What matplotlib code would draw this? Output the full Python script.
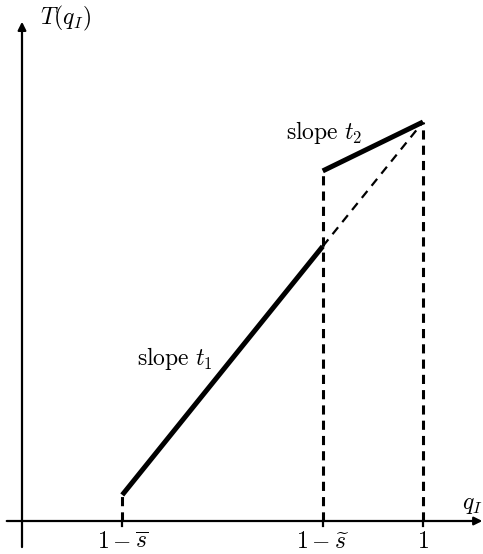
import matplotlib

matplotlib.use("Agg")
import matplotlib.pyplot as plt  # noqa: E402

plt.rcParams["mathtext.fontset"] = "cm"

# breakpoints on the q_I axis
q_low = 0.25      # 1 - s_bar
q_mid = 0.75      # 1 - s_tilde
q_top = 1.0
tick_labels = [r"$1-\overline{s}$", r"$1-\widetilde{s}$", r"$1$"]

# tariff values
T_low = 0.065     # T at 1 - s_bar
t1 = 1.24         # slope of the first segment
T_jump = 0.873    # T just after the jump at 1 - s_tilde
T_end = 0.995     # T at q_I = 1

T_mid = T_low + t1 * (q_mid - q_low)

INK = "black"
FS = 17

fig = plt.figure(figsize=(4.83, 5.54), dpi=100)
ax = fig.add_axes([0, 0, 1, 1])
ax.set_xlim(-22 / 401, 461 / 401)
ax.set_ylim(-33 / 401, 521 / 401)
ax.axis("off")

# coordinate axes with arrow heads
arrow = dict(arrowstyle="-|>", color=INK, lw=1.6, mutation_scale=12,
             shrinkA=0, shrinkB=0)
ax.annotate("", xy=(1.148, 0), xytext=(-0.038, 0), arrowprops=arrow,
            annotation_clip=False)
ax.annotate("", xy=(0, 1.245), xytext=(0, -0.065), arrowprops=arrow,
            annotation_clip=False)

# schedule: first segment, jump, second segment
ax.plot([q_low, q_mid], [T_low, T_mid], color=INK, lw=3.6, solid_capstyle="butt")
ax.plot([q_mid, q_top], [T_jump, T_end], color=INK, lw=3.6, solid_capstyle="butt")
ax.plot([q_mid, q_top], [T_mid, T_end], color=INK, lw=1.6, ls=(0, (4, 3)))

# dashed verticals down to the axis
dash = dict(color=INK, lw=2.2, ls=(0, (3, 2)))
ax.plot([q_low, q_low], [0, T_low], **dash)
ax.plot([q_mid, q_mid], [0, T_jump], **dash)
ax.plot([q_top, q_top], [0, T_end], **dash)

# tick marks and labels
for q, lab in zip([q_low, q_mid, q_top], tick_labels):
    ax.plot([q, q], [0, -0.012], color=INK, lw=1.6)
    ax.text(q, -0.02, lab, ha="center", va="top", fontsize=FS)

ax.text(1.148, 0.012, r"$q_I$", ha="right", va="bottom", fontsize=FS)
ax.text(0.045, 1.252, r"$T(q_I)$", ha="left", va="center", fontsize=FS)
ax.text(0.38, 0.406, r"$\mathrm{slope}\ t_1$", ha="center", va="center", fontsize=FS)
ax.text(0.753, 0.968, r"$\mathrm{slope}\ t_2$", ha="center", va="center", fontsize=FS)

fig.savefig("out.png", dpi=100)
plt.close(fig)
